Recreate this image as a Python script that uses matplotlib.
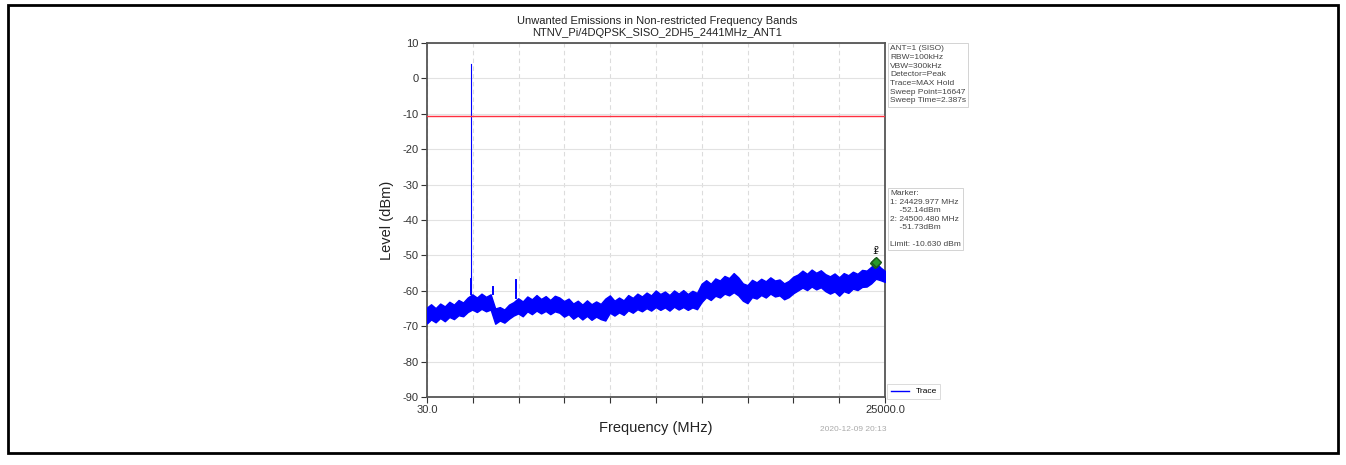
import matplotlib
matplotlib.use("Agg")
import matplotlib.pyplot as plt
from matplotlib.patches import Rectangle

plt.rcParams["font.family"] = ["Liberation Sans", "DejaVu Sans"]
plt.rcParams["axes.unicode_minus"] = False

# ---------------- data ----------------
title_lines = ["Unwanted Emissions in Non-restricted Frequency Bands",
               "NTNV_Pi/4DQPSK_SISO_2DH5_2441MHz_ANT1"]
x_min, x_max = 30.0, 25000.0
y_min, y_max = -90, 10
limit_dbm = -10.63

# trace envelope (frequency MHz, upper / lower level dBm)
env_freq = [30] + [250 * i for i in range(1, 101)]
env_upper = [-64.7, -63.8, -64.9, -63.6, -64.4, -63.1, -63.9, -62.6, -63.3, -61.9,
             -61.0, -61.9, -60.8, -61.7, -61.0, -65.0, -64.6, -65.3, -63.9, -63.2,
             -62.1, -63.0, -61.6, -62.4, -61.2, -62.3, -61.5, -62.6, -61.4, -61.9,
             -62.9, -62.2, -63.6, -62.8, -63.9, -62.7, -63.8, -63.0, -63.7, -62.2,
             -61.3, -62.8, -61.9, -62.7, -61.2, -62.0, -60.8, -61.6, -60.5, -61.3,
             -59.9, -60.9, -60.2, -61.2, -59.9, -60.8, -59.8, -60.9, -60.0, -60.6,
             -58.0, -57.0, -58.0, -56.5, -57.1, -55.8, -56.4, -55.0, -56.2, -57.9,
             -58.4, -56.9, -57.6, -56.6, -57.3, -56.2, -57.1, -56.8, -57.9, -57.2,
             -56.0, -55.4, -54.3, -55.2, -54.0, -54.9, -54.2, -55.3, -55.9, -55.1,
             -56.2, -55.0, -55.6, -54.6, -55.2, -54.1, -54.3, -53.2, -52.0, -53.4,
             -54.4]
env_lower = [-69.2, -68.1, -68.9, -67.7, -68.6, -67.4, -68.0, -66.9, -67.2, -66.0,
             -65.3, -66.0, -65.1, -65.8, -65.3, -69.3, -68.4, -69.0, -67.9, -67.0,
             -66.4, -67.2, -65.8, -66.6, -65.6, -66.4, -65.7, -66.6, -65.8, -66.2,
             -67.3, -66.6, -67.9, -67.0, -68.1, -67.1, -68.2, -67.3, -68.0, -68.4,
             -66.2, -67.0, -66.1, -66.8, -65.5, -66.2, -65.2, -65.8, -64.9, -65.6,
             -64.6, -65.4, -64.7, -65.6, -64.5, -65.3, -64.6, -65.4, -64.7, -65.2,
             -63.2, -61.8, -62.6, -61.4, -61.9, -60.8, -61.3, -60.4, -61.3, -62.8,
             -63.5, -61.8, -62.2, -61.2, -61.9, -60.8, -61.6, -61.3, -62.4, -61.8,
             -60.7, -59.9, -59.1, -59.8, -58.8, -59.6, -59.0, -60.1, -60.8, -60.2,
             -61.4, -60.1, -60.6, -59.4, -59.8, -58.9, -58.8, -57.9, -56.6, -57.0,
             -57.5]

# discrete spurs (frequency MHz, peak dBm)
spur_freq = [2441, 2441, 3620, 4900]
spur_peak = [4.2, -56.7, -58.8, -57.0]

# markers
marker_freq = [24429.977, 24500.480]
marker_level = [-52.14, -51.73]
marker_names = ["1", "2"]

x_tick_count = 11
y_ticks = [10, 0, -10, -20, -30, -40, -50, -60, -70, -80, -90]

info_text = ("ANT=1 (SISO)\nRBW=100kHz\nVBW=300kHz\nDetector=Peak\n"
             "Trace=MAX Hold\nSweep Point=16647\nSweep Time=2.387s")
marker_text = ("Marker:\n1: 24429.977 MHz\n    -52.14dBm\n2: 24500.480 MHz\n"
               "    -51.73dBm\n\nLimit: -10.630 dBm")
timestamp = "2020-12-09 20:13"

# ---------------- figure ----------------
W, H = 1346, 465
fig = plt.figure(figsize=(W / 100, H / 100), dpi=100)
fig.patch.set_facecolor("white")

# outer document frame
fig.add_artist(Rectangle((8 / W, 1 - 453 / H), (1338 - 8) / W, (453 - 5) / H,
                         transform=fig.transFigure, fill=False, edgecolor="black",
                         linewidth=2.0))

ax = fig.add_axes([427 / W, 1 - 397 / H, (885 - 427) / W, (397 - 43) / H])
ax.set_xlim(x_min, x_max)
ax.set_ylim(y_min, y_max)

step = (x_max - x_min) / (x_tick_count - 1)
xt = [x_min + i * step for i in range(x_tick_count)]
ax.set_xticks(xt)
ax.set_xticklabels([f"{x_min:.1f}"] + [""] * (x_tick_count - 2) + [f"{x_max:.1f}"])
ax.set_yticks(y_ticks)
ax.tick_params(axis="both", labelsize=8, colors="#333333", length=4, width=0.8,
               direction="out", pad=2)

ax.grid(True, axis="y", color="#e2e2e2", linewidth=0.8, linestyle="-")
ax.grid(True, axis="x", color="#dcdcdc", linewidth=0.8, linestyle=(0, (4, 3)))
ax.set_axisbelow(True)
for s in ax.spines.values():
    s.set_color("#555555")
    s.set_linewidth(1.3)

# trace band
ax.fill_between(env_freq, env_lower, env_upper, color="#0000ff", linewidth=1.0,
                edgecolor="#0000ff", zorder=3)
# spurs
for f, p in zip(spur_freq, spur_peak):
    base = env_upper[min(range(len(env_freq)), key=lambda i: abs(env_freq[i] - f))]
    lw = 0.8 if p > -50 else 1.4
    ax.plot([f, f], [base, p], color="#0000ff", linewidth=lw, zorder=3)
ax.plot([], [], color="#0000ff", linewidth=1.0, label="Trace")

# limit line
ax.axhline(limit_dbm, color="#ff3040", linewidth=1.0, zorder=4)

# markers
ax.plot(marker_freq, marker_level, linestyle="none", marker="D", markersize=5,
        markerfacecolor="#2a9a2a", markeredgecolor="#1a5a1a", zorder=5)
for f, lv, n in zip(marker_freq, marker_level, marker_names):
    ax.text(f, lv + 2.0, n, fontsize=6.5, ha="center", va="bottom", color="black", zorder=6)

ax.set_xlabel("Frequency (MHz)", fontsize=10.5, color="#222222", labelpad=4)
ax.set_ylabel("Level (dBm)", fontsize=10.5, color="#222222", labelpad=6)

leg = ax.legend(loc="lower left", bbox_to_anchor=(1.005, -0.005), fontsize=6,
                frameon=True, fancybox=False, handlelength=2.2, borderpad=0.4,
                borderaxespad=0)
leg.get_frame().set_edgecolor("#cccccc")
leg.get_frame().set_linewidth(0.6)

# title
fig.text(657 / W, 1 - 21 / H, title_lines[0], ha="center", va="center",
         fontsize=8, color="#222222")
fig.text(657 / W, 1 - 33 / H, title_lines[1], ha="center", va="center",
         fontsize=8, color="#222222")

# info boxes
box = dict(boxstyle="square,pad=0.25", facecolor="white", edgecolor="#cccccc", linewidth=0.6)
fig.text(890 / W, 1 - 45 / H, info_text, ha="left", va="top", fontsize=6,
         color="#444444", linespacing=1.35, bbox=box)
fig.text(890 / W, 1 - 190 / H, marker_text, ha="left", va="top", fontsize=6,
         color="#444444", linespacing=1.3, bbox=box)

fig.text(853 / W, 1 - 429 / H, timestamp, ha="center", va="center", fontsize=6,
         color="#aaaaaa")

fig.savefig("out.png", dpi=100)
